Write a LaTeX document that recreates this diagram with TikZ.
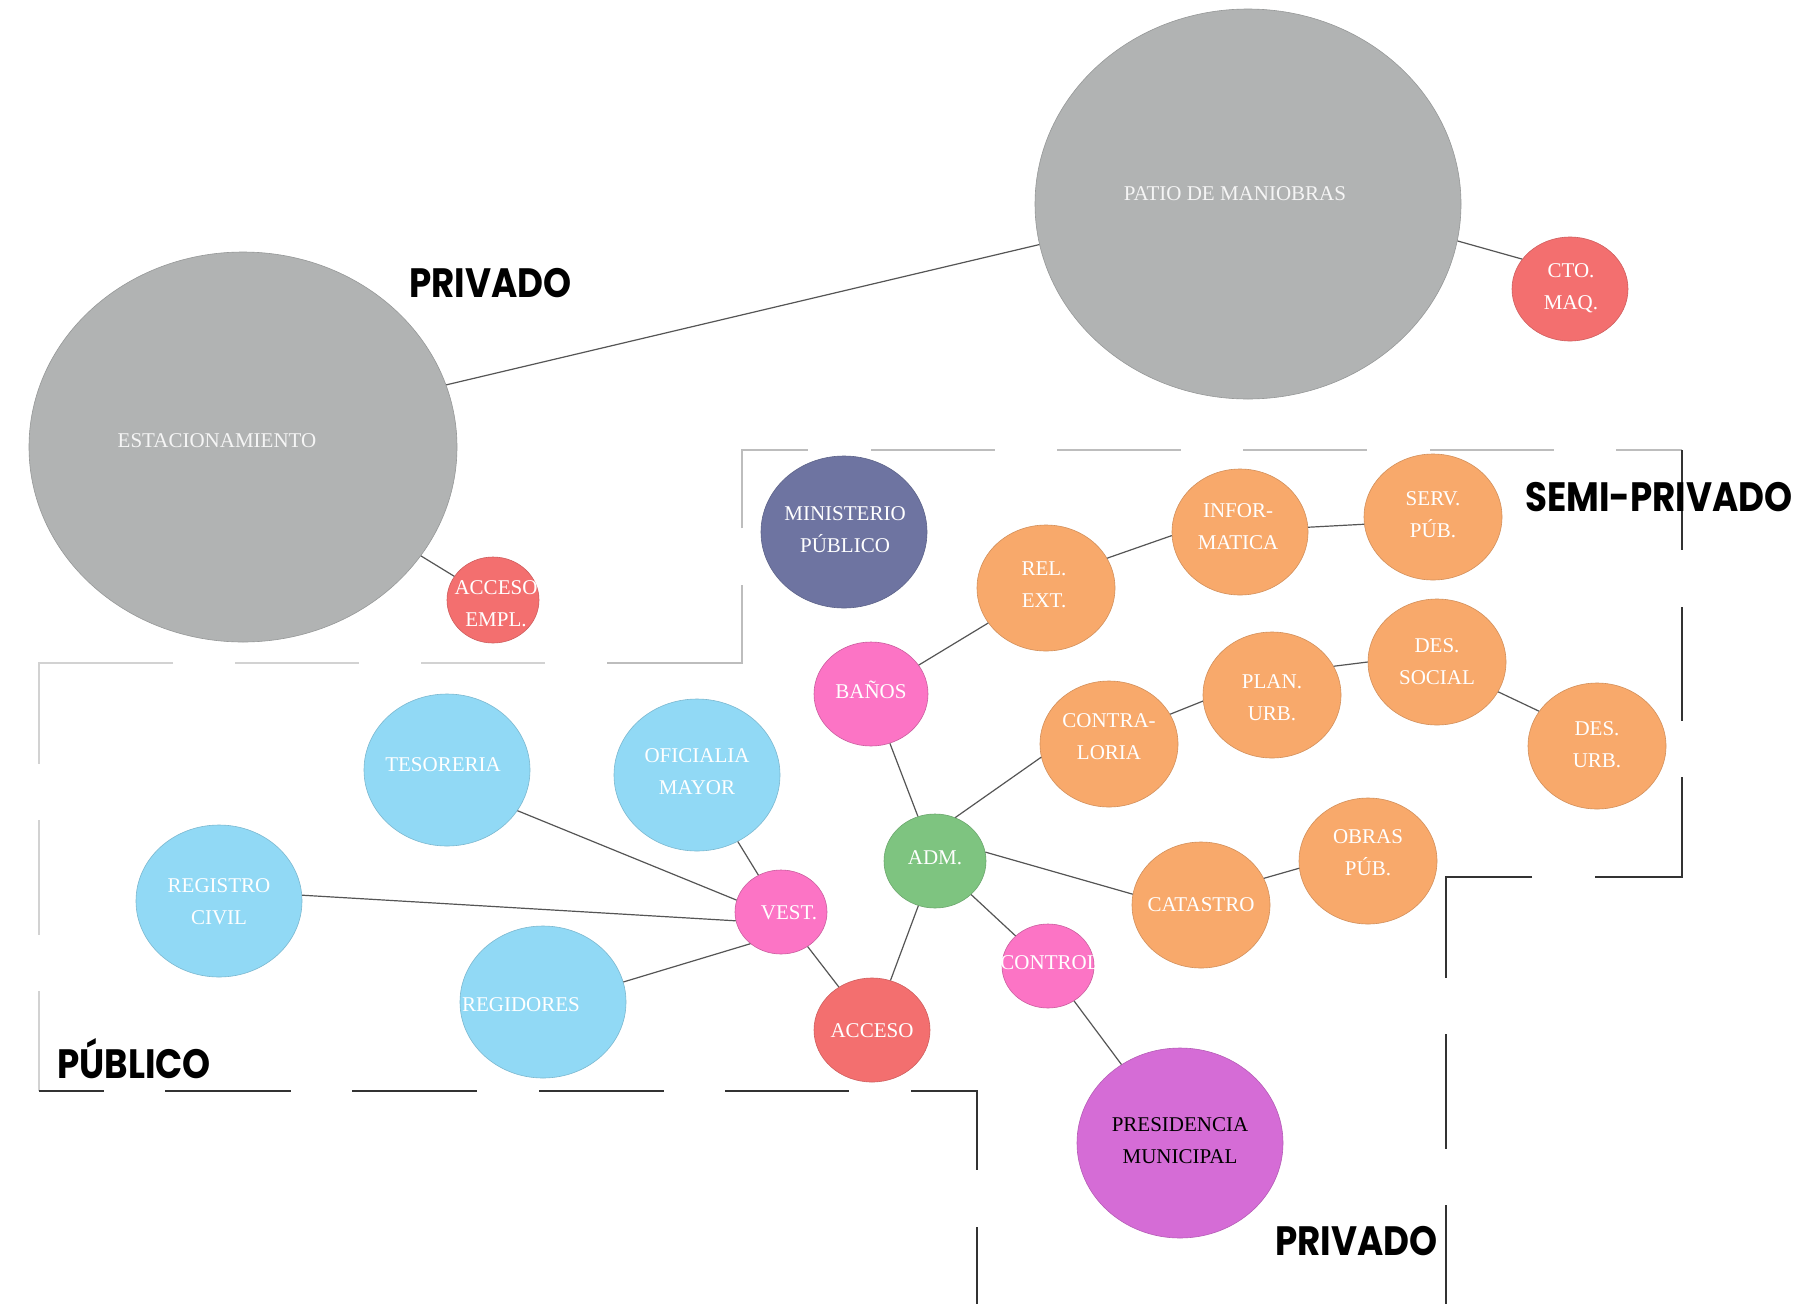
\documentclass[tikz,border=0pt]{standalone}
\usepackage{fontspec}
\usepackage{graphicx}
\setmainfont{Liberation Serif}
\newfontfamily\lblfont{Poppins}
\usetikzlibrary{shapes.geometric}
\definecolor{cgray}{HTML}{B1B3B3}
\definecolor{cred}{HTML}{F36F6F}
\definecolor{cblue}{HTML}{91D9F5}
\definecolor{cpink}{HTML}{FC74C5}
\definecolor{cgreen}{HTML}{7EC480}
\definecolor{corange}{HTML}{F8A96B}
\definecolor{cnavy}{HTML}{6E74A1}
\definecolor{cpurple}{HTML}{D56CD6}
\definecolor{connc}{HTML}{555555}
\definecolor{zonelight}{HTML}{BDBDBD}
\definecolor{zonepale}{HTML}{D2D2D2}
\definecolor{zonedark}{HTML}{333333}
\begin{document}
\begin{tikzpicture}[x=1pt,y=-1pt,
  bub/.style={ellipse, inner sep=0pt, line width=0.6pt},
  gr/.style={bub, fill=cgray, draw=cgray!85!black},
  rd/.style={bub, fill=cred, draw=cred!85!black},
  bl/.style={bub, fill=cblue, draw=cblue!85!black},
  pk/.style={bub, fill=cpink, draw=cpink!80!black},
  gn/.style={bub, fill=cgreen, draw=cgreen!85!black},
  og/.style={bub, fill=corange, draw=corange!85!black},
  nv/.style={bub, fill=cnavy, draw=cnavy!85!black},
  pp/.style={bub, fill=cpurple, draw=cpurple!85!black},
  sz/.style 2 args={minimum width=#1pt, minimum height=#2pt},
  txt/.style={text=white, font=\fontsize{21}{32}\selectfont, align=center, inner sep=0pt},
  conn/.style={draw=connc, line width=1.2pt},
  zoneL/.style={draw=zonelight, line width=2pt},
  zoneP/.style={draw=zonepale, line width=2pt},
  zoneD/.style={draw=zonedark, line width=1.2pt},
  zlab/.style={font=\lblfont\bfseries\fontsize{41}{41}\selectfont, anchor=base west, inner sep=0pt, text=black}
]
\useasboundingbox (0,0) rectangle (1818,1304);
\fill[white] (0,0) rectangle (1818,1304);

% ---------- zone boundaries ----------
% semi-private
\draw[zoneL] (742,528) -- (742,450) -- (808,450);
\foreach \a/\b in {871/995,1057/1181,1243/1367,1430/1554} \draw[zoneL] (\a,450) -- (\b,450);
\draw[zoneL] (1616,450) -- (1682,450);
\draw[zoneD] (1682,450) -- (1682,550);
\draw[zoneD] (1682,607) -- (1682,721);
\draw[zoneD] (1682,777) -- (1682,877) -- (1595,877);
\draw[zoneD] (1532,877) -- (1446,877) -- (1446,978);
\draw[zoneD] (1446,1034) -- (1446,1149);
\draw[zoneD] (1446,1205) -- (1446,1304);
% public
\draw[zoneL] (607,663) -- (742,663) -- (742,585);
\foreach \a/\b in {235/359,421/545} \draw[zoneP] (\a,663) -- (\b,663);
\draw[zoneP] (173,663) -- (39,663) -- (39,764);
\draw[zoneP] (39,820) -- (39,935);
\draw[zoneP] (39,991) -- (39,1091);
\draw[zoneD] (39,1091) -- (104,1091);
\foreach \a/\b in {165/291,352/477,539/664,725/849} \draw[zoneD] (\a,1091) -- (\b,1091);
\draw[zoneD] (911,1091) -- (977,1091) -- (977,1170);
\draw[zoneD] (977,1227) -- (977,1304);

% ---------- bubbles ----------
\node[gr, sz={428}{390}] (estac) at (243,447) {};
\node[gr, sz={426}{390}] (patio) at (1248,204) {};
\node[rd, sz={116}{104}] (cto) at (1570,289) {};
\node[rd, sz={92}{86}] (accempl) at (493,600) {};
\node[nv, sz={166}{152}] (minis) at (844,532) {};
\node[og, sz={138}{126}] (rel) at (1046,588) {};
\node[og, sz={136}{126}] (infor) at (1240,532) {};
\node[og, sz={138}{126}] (serv) at (1433,517) {};
\node[pk, sz={114}{104}] (banos) at (871,694) {};
\node[og, sz={138}{126}] (contra) at (1109,744) {};
\node[og, sz={138}{126}] (plan) at (1272,695) {};
\node[og, sz={138}{126}] (social) at (1437,662) {};
\node[og, sz={138}{126}] (desurb) at (1597,746) {};
\node[bl, sz={166}{152}] (tes) at (447,770) {};
\node[bl, sz={166}{152}] (ofi) at (697,775) {};
\node[bl, sz={166}{152}] (reg) at (219,901) {};
\node[bl, sz={166}{152}] (regid) at (543,1002) {};
\node[pk, sz={92}{84}] (vest) at (781,912) {};
\node[gn, sz={102}{94}] (adm) at (935,861) {};
\node[rd, sz={116}{104}] (acceso) at (872,1030) {};
\node[pk, sz={92}{84}] (control) at (1048,966) {};
\node[og, sz={138}{126}] (catastro) at (1201,905) {};
\node[og, sz={138}{126}] (obras) at (1368,861) {};
\node[pp, sz={206}{190}] (pres) at (1180,1143) {};

% ---------- texts ----------
\node[txt, text=white!92!gray] (estac-t) at (217,441) {ESTACIONAMIENTO};
\node[txt, text=white!92!gray] (patio-t) at (1235,194) {PATIO DE MANIOBRAS};
\node[txt] (cto-t) at (1571,288) {CTO.\\MAQ.};
\node[txt] (accempl-t) at (496,604) {ACCESO\\EMPL.};
\node[txt] (minis-t) at (845,530) {MINISTERIO\\PÚBLICO};
\node[txt] (rel-t) at (1044,585) {REL.\\EXT.};
\node[txt] (infor-t) at (1238,527) {INFOR-\\MATICA};
\node[txt] (serv-t) at (1433,515) {SERV.\\PÚB.};
\node[txt] (banos-t) at (871,690) {BAÑOS};
\node[txt] (contra-t) at (1109,737) {CONTRA-\\LORIA};
\node[txt] (plan-t) at (1272,698) {PLAN.\\URB.};
\node[txt] (social-t) at (1437,662) {DES.\\SOCIAL};
\node[txt] (desurb-t) at (1597,745) {DES.\\URB.};
\node[txt] (obras-t) at (1368,853) {OBRAS\\PÚB.};
\node[txt] (catastro-t) at (1201,905) {CATASTRO};
\node[txt] (control-t) at (1050,963) {CONTROL};
\node[txt] (acceso-t) at (872,1031) {ACCESO};
\node[txt] (adm-t) at (935,858) {ADM.};
\node[txt] (vest-t) at (789,913) {VEST.};
\node[txt] (tes-t) at (443,765) {TESORERIA};
\node[txt] (ofi-t) at (697,772) {OFICIALIA\\MAYOR};
\node[txt] (reg-t) at (219,902) {REGISTRO\\CIVIL};
\node[txt] (regid-t) at (521,1005) {REGIDORES};
\node[txt, text=black] (pres-t) at (1180,1141) {PRESIDENCIA\\MUNICIPAL};

% ---------- connectors ----------
\draw[conn] (estac.17.8) -- (patio.191.7);
\draw[conn] (estac) -- (accempl);
\draw[conn] (patio.350.6) -- (cto.148.3);
\draw[conn] (tes.330.6) -- (vest.165);
\draw[conn] (vest) -- (ofi);
\draw[conn] (reg.4.9) -- (vest.191);
\draw[conn] (regid.14) -- (vest.226);
\draw[conn] (vest) -- (acceso);
\draw[conn] (adm) -- (banos);
\draw[conn] (banos) -- (rel);
\draw[conn] (rel.26.6) -- (infor.183.3);
\draw[conn] (infor.4) -- (serv.186.6);
\draw[conn] (adm.65) -- (contra.191.6);
\draw[conn] (contra.26) -- (plan.185);
\draw[conn] (plan.25.5) -- (social.180);
\draw[conn] (social.334.2) -- (desurb.149.6);
\draw[conn] (adm.10) -- (catastro.171);
\draw[conn] (catastro.23.2) -- (obras.186.6);
\draw[conn] (adm) -- (control);
\draw[conn] (control) -- (pres);
\draw[conn] (adm) -- (acceso);

% ---------- zone labels ----------
\node[zlab] (lab-priv1) at (409,297) {\scalebox{0.87}[1]{PRIVADO}};
\node[zlab] (lab-semi) at (1525,511) {\scalebox{0.87}[1]{SEMI-PRIVADO}};
\node[zlab] (lab-pub) at (57,1078) {\scalebox{0.87}[1]{PÚBLICO}};
\node[zlab] (lab-priv2) at (1275,1255) {\scalebox{0.87}[1]{PRIVADO}};
\end{tikzpicture}
\end{document}
